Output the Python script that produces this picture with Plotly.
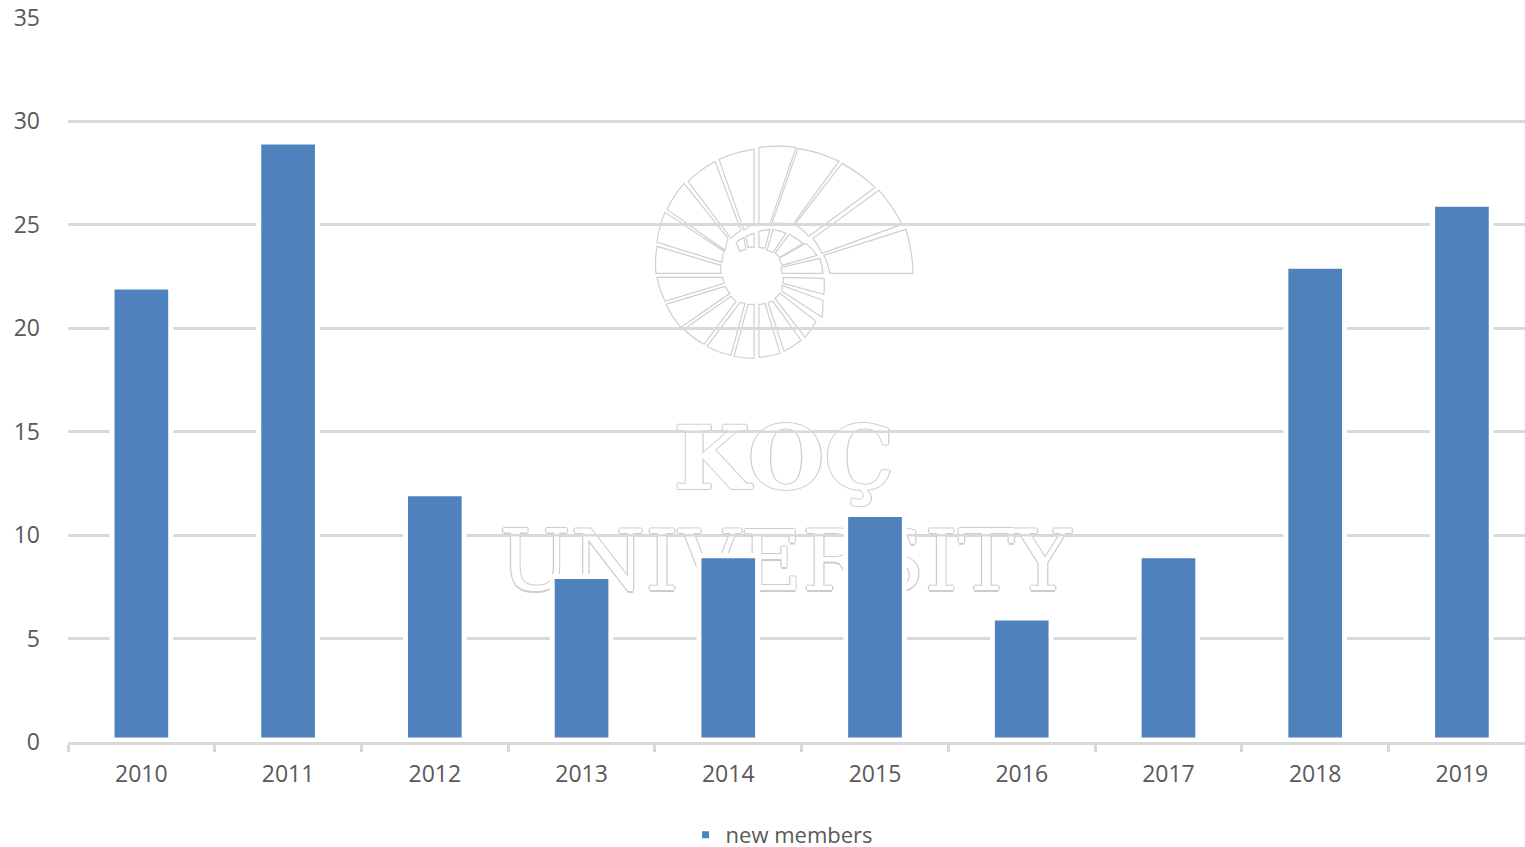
import math
import plotly.graph_objects as go

years = ["2010", "2011", "2012", "2013", "2014", "2015", "2016", "2017", "2018", "2019"]
new_members = [22, 29, 12, 8, 9, 11, 6, 9, 23, 26]
series_name = "new members"

GRID = "#D9D9D9"
TEXT = "#595959"
BLUE = "#4F81BD"
FONT = "Open Sans"
L, R, T, B = 68, 1525, 17.5, 742
W, H = 1525, 847
Y_MAX = 35

# Watermark logo: spiral wedges (inner start, outer start, outer end, inner end), px offsets from centre
logo_center = (752, 276)
logo_wedges = [
    ((78, 3), (161, 3), (154, 47), (72, 21)),
    ((70, 23), (150, 52), (127, 86), (61, 38)),
    ((57, 40), (123, 89), (90, 113), (43, 52)),
    ((41, 52), (87, 115), (46, 128), (20, 53)),
    ((18, 53), (44, 129), (7, 129), (7, 51)),
    ((2, 53), (2, 127), (-33, 117), (-8, 46)),
    ((-11, 46), (-37, 115), (-64, 95), (-21, 38)),
    ((-24, 38), (-68, 93), (-85, 67), (-27, 26)),
    ((-28, 25), (-87, 64), (-95, 34), (-30, 14)),
    ((-31, 11), (-95, 30), (-96, 3), (-31, 3)),
    ((-29, -1), (-95, -1), (-87, -25), (-28, -7)),
    ((-27, -10), (-86, -28), (-71, -51), (-22, -17)),
    ((-21, -20), (-68, -53), (-48, -68), (-16, -25)),
    ((-12, -26), (-45, -70), (-21, -79), (-7, -27)),
    ((-4, -28), (-18, -80), (2, -82), (2, -28)),
    ((7, -28), (7, -81), (28, -77), (13, -27)),
    ((16, -26), (32, -75), (49, -64), (21, -25)),
    ((23, -22), (53, -61), (64, -45), (28, -17)),
    ((30, -15), (70, -41), (71, -24), (30, -9)),
    ((31, -7), (72, -18), (72, -2), (31, -1)),
    ((30, 3), (71, 3), (68, 18), (29, 9)),
    ((30, 11), (65, 21), (54, 33), (27, 18)),
    ((28, 19), (51, 33), (37, 42), (23, 23)),
    ((21, 24), (34, 43), (21, 47), (15, 26)),
    ((13, 28), (18, 47), (7, 45), (7, 29)),
    ((2, 29), (2, 43), (-6, 40), (-4, 29)),
    ((-6, 27), (-8, 39), (-16, 34), (-12, 25)),
]


def px(p):
    X, Y = logo_center[0] + p[0], logo_center[1] - p[1]
    return (X - L) / (R - L), (B - Y) / (B - T)


def ctrl(a, b):
    ra, rb = math.hypot(*a), math.hypot(*b)
    mx, my = a[0] + b[0], a[1] + b[1]
    n = math.hypot(mx, my) or 1
    half = math.acos(max(-1, min(1, (a[0] * b[0] + a[1] * b[1]) / (ra * rb)))) / 2
    r = (ra + rb) / 2 / math.cos(half)
    return (mx / n * r, my / n * r)


def pstr(p):
    x, y = px(p)
    return f"{x:.5f},{y:.5f}"


logo_shapes = []
for i1, o1, o2, i2 in logo_wedges:
    d = (f"M{pstr(i1)} L{pstr(o1)} Q{pstr(ctrl(o1, o2))} {pstr(o2)} "
         f"L{pstr(i2)} Q{pstr(ctrl(i2, i1))} {pstr(i1)} Z")
    logo_shapes.append(dict(type="path", xref="paper", yref="paper", path=d, layer="below",
                            fillcolor="white", line=dict(color="#CFCFCF", width=1.2)))

outline = "1.2px 0 #CCCCCC, -1.2px 0 #CCCCCC, 0 1.2px #CCCCCC, 0 -1.2px #CCCCCC"

fig = go.Figure()
# Watermark words, on the base axes so that the bars paint over them
fig.add_trace(go.Scatter(
    x=[(784 - L) / (R - L)], y=[(B - 467) / (B - T) * Y_MAX], mode="text", text=["KOÇ"], showlegend=False,
    hoverinfo="skip", textposition="middle center", xaxis="x", yaxis="y",
    textfont=dict(family="DejaVu Serif", size=88, color="white", weight="bold", shadow=outline)))
fig.add_trace(go.Scatter(
    x=[(785 - L) / (R - L)], y=[(B - 569) / (B - T) * Y_MAX], mode="text", text=["UNIVERSITY"], showlegend=False,
    hoverinfo="skip", textposition="middle center", xaxis="x", yaxis="y",
    textfont=dict(family="DejaVu Serif", size=85, color="white", shadow=outline)))
fig.add_trace(go.Bar(
    x=years, y=new_members, name=series_name, xaxis="x2", yaxis="y2",
    marker=dict(color=BLUE, line=dict(color="white", width=5))))

shapes = list(logo_shapes)
# Gridline pieces that run over the watermark lettering, and the gap under the bars
shapes += [
    dict(type="line", xref="paper", yref="y", x0=(670 - L) / (R - L), x1=(900 - L) / (R - L), y0=15, y1=15,
         line=dict(color=GRID, width=2.5), layer="above"),
    dict(type="line", xref="paper", yref="y", x0=(490 - L) / (R - L), x1=(844 - L) / (R - L), y0=10, y1=10,
         line=dict(color=GRID, width=2.5), layer="above"),
    dict(type="line", xref="paper", yref="y", x0=(907 - L) / (R - L), x1=(1075 - L) / (R - L), y0=10, y1=10,
         line=dict(color=GRID, width=2.5), layer="above"),
    dict(type="rect", xref="paper", yref="y", x0=0, x1=1, y0=0.08, y1=0.22,
         fillcolor="white", line=dict(width=0), layer="above"),
]

fig.update_layout(
    width=W, height=H, autosize=False,
    paper_bgcolor="white", plot_bgcolor="white",
    margin=dict(l=L, r=W - R, t=T, b=H - B, pad=0),
    font=dict(family=FONT, color=TEXT, size=23),
    bargap=0.6,
    shapes=shapes,
    showlegend=True,
    legend=dict(orientation="h", x=0.5125, xanchor="center", xref="container", y=0.0142, yanchor="middle",
                yref="container", font=dict(family=FONT, size=22, color=TEXT), itemwidth=30),
    xaxis=dict(range=[0, 1], visible=False, domain=[0, 1], fixedrange=True),
    yaxis=dict(range=[0, Y_MAX], dtick=5, tick0=0, showgrid=True, gridcolor=GRID, gridwidth=2.5,
               zeroline=False, showline=False, ticks="", ticklabelstandoff=27,
               tickfont=dict(family=FONT, size=23, color=TEXT), anchor="x"),
    xaxis2=dict(overlaying="x", type="category", categoryorder="array", categoryarray=years,
                range=[-0.5, 9.43], anchor="y2", side="bottom", showgrid=False, zeroline=False,
                showline=True, linecolor=GRID, linewidth=2.5, ticks="outside", ticklen=7, tickwidth=2.5,
                tickcolor=GRID, tickson="boundaries", ticklabelstandoff=10,
                tickfont=dict(family=FONT, size=23, color=TEXT)),
    yaxis2=dict(overlaying="y", range=[0, Y_MAX], visible=False, anchor="x2", showgrid=False, zeroline=False),
)

fig.write_html("out.html", config={"displayModeBar": False}, post_script="document.body.style.margin='0';")
